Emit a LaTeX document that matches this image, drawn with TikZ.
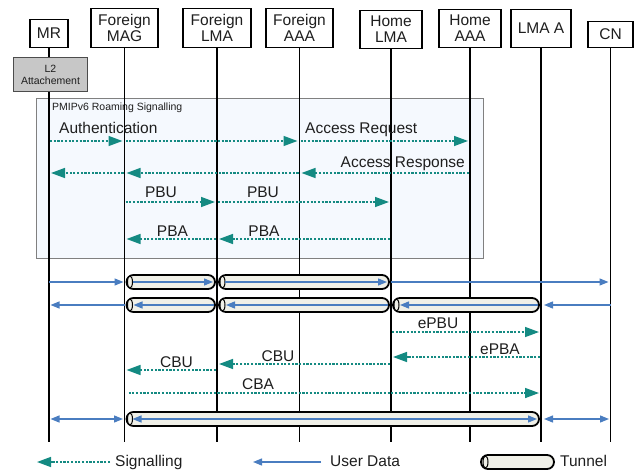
\documentclass[tikz,border=0pt]{standalone}
\usepackage{fontspec}
\setmainfont{Liberation Sans}
\usetikzlibrary{arrows.meta,calc}
\definecolor{teal1}{HTML}{148A82}
\definecolor{ublue}{HTML}{4A7DC0}
\definecolor{txt}{HTML}{1E1E1E}
\definecolor{sigfill}{HTML}{F5F9FE}
\definecolor{tunfill}{HTML}{F0F0E8}
\newcommand\mytunnel[3]{%
  \draw[tun] ($(#1 |- #3)+(2,-7)$) rectangle ($(#2 |- #3)+(-2,7)$);
  \draw[black, line width=1pt, fill=tunfill] ($(#1 |- #3)+(5.5,0)$) ellipse [x radius=2.5pt, y radius=6pt];
}
\begin{document}
\begin{tikzpicture}[x=1pt,y=-1pt,
  hdr/.style={draw=black, line width=1.3pt, fill=white, align=center, font=\fontsize{15.5}{16.5}\selectfont, text=txt, inner sep=0pt, anchor=south},
  life/.style={line width=1.4pt, black},
  sig/.style={teal1, line width=1.5pt, dash pattern=on 2.2pt off 1.5pt, -{Triangle[length=14pt,width=10pt]}, shorten >=2pt, shorten <=1pt},
  usr/.style={ublue, line width=1.3pt, -{Triangle[length=9pt,width=7pt]}},
  usrtwo/.style={ublue, line width=1.3pt, {Triangle[length=9pt,width=7pt]}-{Triangle[length=9pt,width=7pt]}},
  lbl/.style={font=\fontsize{15.5}{17}\selectfont, text=txt, inner sep=0pt},
  tun/.style={draw=black, line width=1.8pt, fill=tunfill, rounded corners=7pt},
]
\useasboundingbox (0,0) rectangle (636,470);

% signalling frame
\node[draw=gray, fill=sigfill, line width=1.3pt, minimum width=447pt, minimum height=160pt, anchor=north west, inner sep=0pt] (sigbox) at (36,98) {};
\node[font=\fontsize{10.5}{12}\selectfont, anchor=base west, text=txt, inner sep=0pt] (siglbl) at (52,110.5) {PMIPv6 Roaming Signalling};

% headers
\node[hdr, minimum width=38pt, minimum height=28pt] (mr) at (49,48) {MR};
\node[hdr, minimum width=67pt, minimum height=39pt] (fmag) at (124.5,48) {Foreign\\MAG};
\node[hdr, minimum width=68pt, minimum height=39pt] (flma) at (217,48) {Foreign\\LMA};
\node[hdr, minimum width=67pt, minimum height=39pt] (faaa) at (299.5,48) {Foreign\\AAA};
\node[hdr, minimum width=62pt, minimum height=38pt] (hlma) at (391,49) {Home\\LMA};
\node[hdr, minimum width=62pt, minimum height=38pt] (haaa) at (470,48) {Home\\AAA};
\node[hdr, minimum width=60pt, minimum height=38pt] (lmaa) at (541,48) {LMA A};
\node[hdr, minimum width=45pt, minimum height=26pt] (cn) at (610.5,48) {CN};

% rows
\coordinate (bot) at (0,442);
\coordinate (rA) at (0,141);
\coordinate (rB) at (0,173);
\coordinate (rC) at (0,202);
\coordinate (rD) at (0,239);
\coordinate (rU1) at (0,282);
\coordinate (rU2) at (0,305);
\coordinate (rE) at (0,332);
\coordinate (rF) at (0,357);
\coordinate (rG) at (0,364);
\coordinate (rH) at (0,370);
\coordinate (rI) at (0,393);
\coordinate (rU3) at (0,419);

% lifelines
\foreach \n in {mr,fmag,flma,faaa,hlma,haaa,lmaa,cn}
  \draw[life] (\n.south) -- (\n.south |- bot);

\node[draw=black!70, fill=black!22, line width=1pt, minimum width=74pt, minimum height=34pt, anchor=north west, align=center, font=\fontsize{10.5}{12}\selectfont, text=txt, inner sep=0pt] (l2) at (13,57) {L2\\Attachement};

% signalling messages
\draw[sig] (mr |- rA) -- (fmag |- rA);
\draw[sig] (fmag |- rA) -- (faaa |- rA);
\draw[sig] (faaa |- rA) -- (haaa |- rA);
\node[lbl, anchor=base west] (tauth) at (59,134) {Authentication};
\node[lbl, anchor=base west] (treq) at (305,134) {Access Request};

\draw[sig] (haaa |- rB) -- (faaa |- rB);
\draw[sig] (faaa |- rB) -- (fmag |- rB);
\draw[sig] (fmag |- rB) -- (mr |- rB);
\node[lbl, anchor=base east] (tresp) at (465,168) {Access Response};

\draw[sig] (fmag |- rC) -- (flma |- rC);
\draw[sig] (flma |- rC) -- (hlma |- rC);
\node[lbl, anchor=base] (tpbu1) at (161,198) {PBU};
\node[lbl, anchor=base] (tpbu2) at (263,198) {PBU};

\draw[sig] (hlma |- rD) -- (flma |- rD);
\draw[sig] (flma |- rD) -- (fmag |- rD);
\node[lbl, anchor=base] (tpba1) at (172.5,236) {PBA};
\node[lbl, anchor=base] (tpba2) at (264,236) {PBA};

% user data lines
\draw[usr, shorten >=1pt] (mr |- rU1) -- (fmag |- rU1);
\draw[usr, shorten >=2pt] (hlma |- rU1) -- (cn |- rU1);
\draw[usr, shorten >=3pt] (cn |- rU2) -- (lmaa |- rU2);
\draw[usr, shorten >=1.5pt] (fmag |- rU2) -- (mr |- rU2);
\draw[usrtwo, shorten >=1.5pt, shorten <=1.5pt] (mr |- rU3) -- (fmag |- rU3);
\draw[usrtwo, shorten >=1.5pt, shorten <=3pt] (lmaa |- rU3) -- (cn |- rU3);

% tunnels
\mytunnel{fmag}{flma}{rU1}
\mytunnel{flma}{hlma}{rU1}
\mytunnel{fmag}{flma}{rU2}
\mytunnel{flma}{hlma}{rU2}
\mytunnel{hlma}{lmaa}{rU2}
\mytunnel{fmag}{lmaa}{rU3}

\draw[usr] ($(fmag |- rU1)+(8,0)$) -- ($(flma |- rU1)+(-4,0)$);
\draw[usr] ($(flma |- rU1)+(8,0)$) -- ($(hlma |- rU1)+(-4,0)$);
\draw[usr] ($(flma |- rU2)+(-3,0)$) -- ($(fmag |- rU2)+(9,0)$);
\draw[usr] ($(hlma |- rU2)+(-3,0)$) -- ($(flma |- rU2)+(9,0)$);
\draw[usr] ($(lmaa |- rU2)+(-3,0)$) -- ($(hlma |- rU2)+(9,0)$);
\draw[usrtwo] ($(fmag |- rU3)+(8,0)$) -- ($(lmaa |- rU3)+(-4,0)$);

% extended signalling
\draw[sig] (hlma |- rE) -- (lmaa |- rE);
\node[lbl, anchor=base] (tepbu) at (438,328) {ePBU};
\draw[sig] (lmaa |- rF) -- (hlma |- rF);
\node[lbl, anchor=base] (tepba) at (500,354) {ePBA};
\draw[sig] (hlma |- rG) -- (flma |- rG);
\node[lbl, anchor=base] (tcbu2) at (278,361) {CBU};
\draw[sig] (flma |- rH) -- (fmag |- rH);
\node[lbl, anchor=base] (tcbu1) at (176.5,367) {CBU};
\draw[sig, shorten <=4pt] (fmag |- rI) -- (lmaa |- rI);
\node[lbl, anchor=base] (tcba) at (258,389) {CBA};

% legend
\coordinate (lgsa) at (110,462);
\coordinate (lgsb) at (37,462);
\draw[sig, shorten >=0pt, shorten <=0pt] (lgsa) -- (lgsb);
\node[lbl, anchor=base west] (lgst) at (115,466) {Signalling};
\coordinate (lgua) at (321,462);
\coordinate (lgub) at (253,462);
\draw[usr] (lgua) -- (lgub);
\node[lbl, anchor=base west] (lgut) at (330,466) {User Data};
\draw[tun] (481,455) rectangle (554,469);
\draw[black, line width=1pt, fill=tunfill] (485.5,462) ellipse [x radius=2.5pt, y radius=6pt];
\node[lbl, anchor=base west] (lgtt) at (560,466) {Tunnel};
\end{tikzpicture}
\end{document}
